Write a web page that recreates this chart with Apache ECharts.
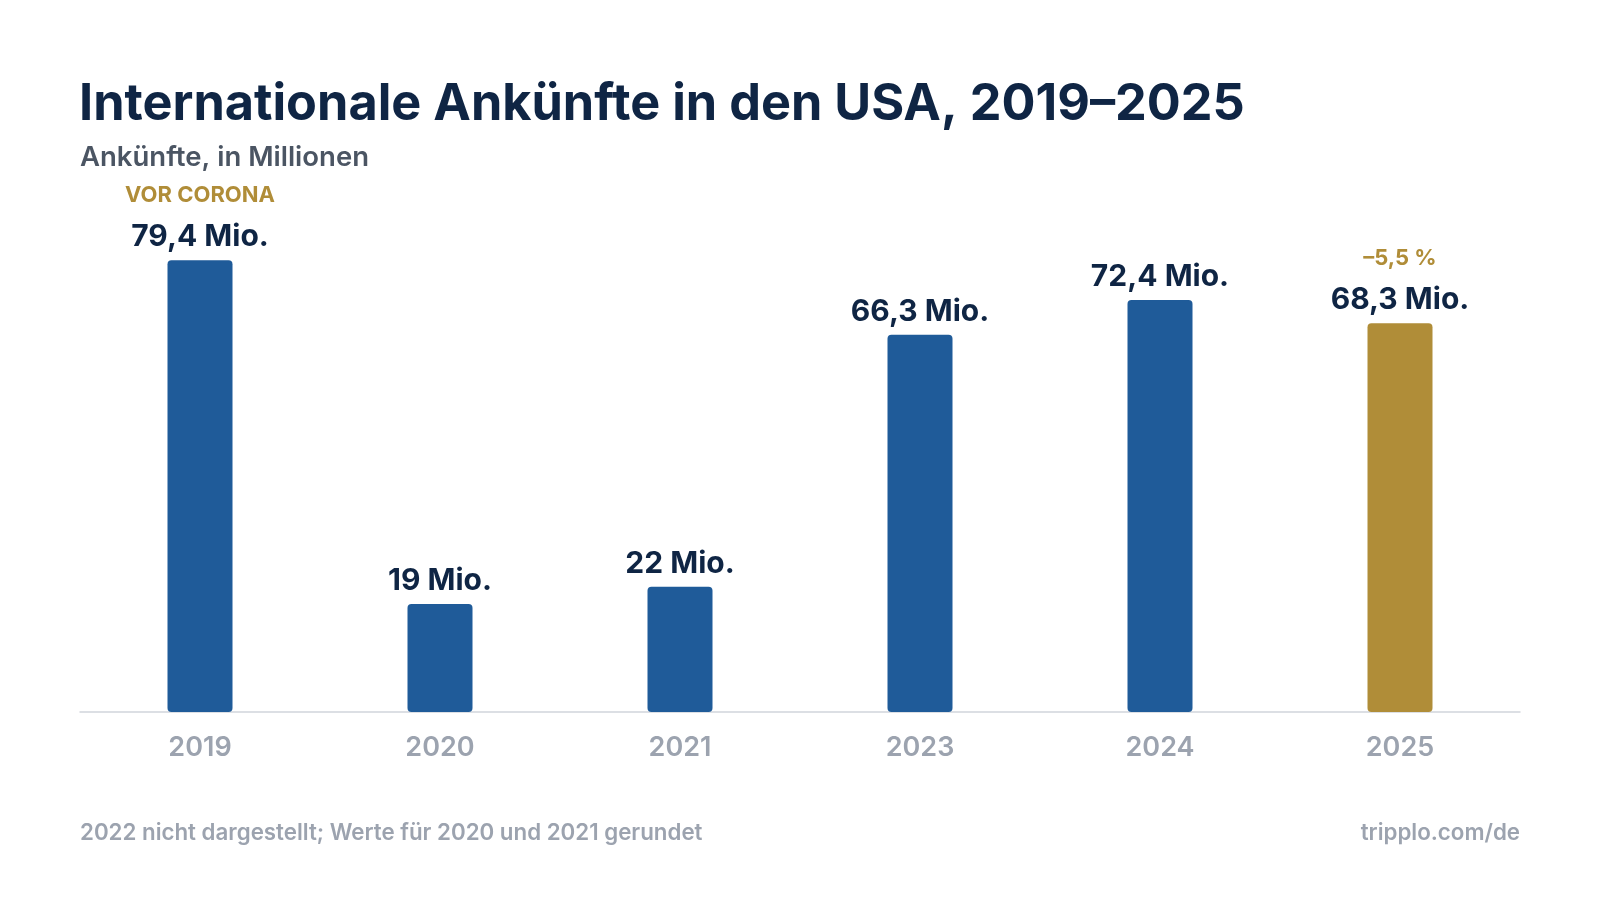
<!DOCTYPE html>
<html>
<head>
<meta charset="utf-8">
<script src="https://cdn.jsdelivr.net/npm/echarts@6/dist/echarts.min.js"></script>
<style>
  html, body { margin: 0; padding: 0; background: #ffffff; }
  #chart { width: 1600px; height: 900px; }
</style>
</head>
<body>
<div id="chart"></div>
<script>
// Daten
var years = ['2019', '2020', '2021', '2023', '2024', '2025'];
var arrivals = [79.4, 19, 22, 66.3, 72.4, 68.3];
var notes = ['VOR CORONA', '', '', '', '', '–5,5 %'];
var highlightYear = '2025';

var navy = '#0f2544';
var blue = '#1f5b99';
var gold = '#b08d38';
var grey = '#9ca3af';

var myChart = echarts.init(document.getElementById('chart'));

function fmt(v) {
  return String(v).replace('.', ',') + ' Mio.';
}

var barData = arrivals.map(function (v, i) {
  return {
    value: v,
    itemStyle: { color: years[i] === highlightYear ? gold : blue }
  };
});

var option = {
  backgroundColor: '#ffffff',
  animation: false,
  textStyle: { fontFamily: 'Inter' },
  title: [
    {
      text: 'Internationale Ankünfte in den USA, 2019–2025',
      left: 79, top: 80, padding: 0,
      textStyle: { fontFamily: 'Inter', fontSize: 50.4, fontWeight: 700, color: navy }
    },
    {
      text: 'Ankünfte, in Millionen',
      left: 80, top: 144, padding: 0,
      textStyle: { fontFamily: 'Inter', fontSize: 27.5, fontWeight: 600, color: '#4b5563' }
    },
    {
      text: '2022 nicht dargestellt; Werte für 2020 und 2021 gerundet',
      left: 80, top: 822, padding: 0,
      textStyle: { fontFamily: 'Inter', fontSize: 22.3, fontWeight: 600, color: grey }
    },
    {
      text: 'tripplo.com/de',
      right: 80, top: 822, padding: 0,
      textStyle: { fontFamily: 'Inter', fontSize: 22.3, fontWeight: 600, color: grey }
    }
  ],
  grid: { left: 80, right: 80, top: 143, bottom: 188, containLabel: false },
  xAxis: {
    type: 'category',
    data: years,
    axisLine: { lineStyle: { color: '#d1d5db', width: 1.5 } },
    axisTick: { show: false },
    axisLabel: {
      margin: 22,
      fontFamily: 'Inter', fontSize: 27, fontWeight: 600, color: grey
    }
  },
  yAxis: {
    type: 'value',
    min: 0, max: 100,
    show: false,
    splitLine: { show: false }
  },
  series: [{
    type: 'bar',
    data: barData,
    barWidth: 65,
    itemStyle: { borderRadius: 4 },
    label: {
      show: true,
      position: 'top',
      distance: 5,
      formatter: function (p) {
        var n = notes[p.dataIndex];
        return (n ? '{note|' + n + '}\n' : '') + '{val|' + fmt(p.value) + '}';
      },
      rich: {
        note: { fontFamily: 'Inter', fontSize: 22, fontWeight: 700, color: gold, lineHeight: 48 },
        val: { fontFamily: 'Inter', fontSize: 30, fontWeight: 700, color: navy, lineHeight: 36 }
      }
    }
  }]
};

myChart.setOption(option);
</script>
</body>
</html>
